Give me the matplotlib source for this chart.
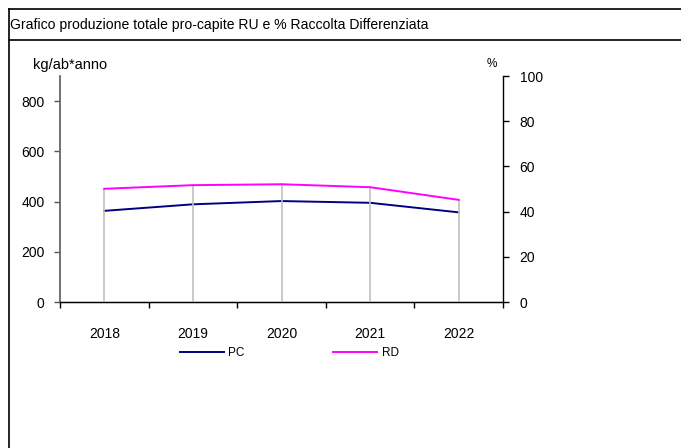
import numpy as np
import matplotlib
matplotlib.use('Agg')
import matplotlib.pyplot as plt
from matplotlib.lines import Line2D

plt.rcParams['font.family'] = ['Liberation Sans', 'DejaVu Sans']

# dati
anni = ['2018', '2019', '2020', '2021', '2022']
pc = [363, 389, 402, 395, 357]      # kg/ab*anno
rd = [50.1, 51.7, 52.1, 50.8, 45.2]  # %

W, H = 681, 448
fig = plt.figure(figsize=(W / 100, H / 100), dpi=100)

# cornice della tabella
fig.add_artist(Line2D([8.5 / W, 8.5 / W], [0, 1 - 9 / H], color='black', lw=1.2))
fig.add_artist(Line2D([8.5 / W, 1], [1 - 9 / H, 1 - 9 / H], color='black', lw=1.2))
fig.add_artist(Line2D([8.5 / W, 1], [1 - 40 / H, 1 - 40 / H], color='black', lw=1.2))
fig.text(10 / W, 1 - 24.5 / H, 'Grafico produzione totale pro-capite RU e % Raccolta Differenziata',
         fontsize=10.1, va='center', ha='left')

ax = fig.add_axes([60 / W, 1 - 302 / H, 443 / W, 226 / H])
ax2 = ax.twinx()

x = np.arange(len(anni))

# linee di riferimento verticali
for xi, v in zip(x, rd):
    ax2.plot([xi, xi], [0, v], color='#c0c0c0', lw=1.2, zorder=1)

ax.plot(x, pc, color='#000080', lw=1.4, zorder=3)
ax2.plot(x, rd, color='#ff00ff', lw=1.4, zorder=3)

ax.set_xlim(-0.5, len(anni) - 0.5)
ax.set_ylim(0, 900)
ax2.set_ylim(0, 100)

ax.set_yticks([0, 200, 400, 600, 800])
ax2.set_yticks([0, 20, 40, 60, 80, 100])
ax.set_xticks(np.arange(len(anni) + 1) - 0.5)
ax.set_xticklabels([])
ax.set_xticks(x, minor=True)
ax.set_xticklabels(anni, minor=True)

ax.tick_params(axis='x', which='major', length=4, width=1, direction='out')
ax.tick_params(axis='x', which='minor', length=0, pad=18, labelsize=10)
ax.tick_params(axis='y', length=4, width=1, color='#555555', pad=7, labelsize=10)
ax2.tick_params(axis='y', length=4, width=1, pad=8, labelsize=10)

for a in (ax, ax2):
    a.spines['top'].set_visible(False)
    a.set_facecolor('none')
ax.spines['left'].set_color('#666666')
ax.spines['left'].set_linewidth(1.3)
ax2.spines['left'].set_visible(False)
ax2.spines['right'].set_linewidth(1.0)
ax.spines['bottom'].set_linewidth(1.0)
ax.spines['right'].set_visible(False)

fig.text(33 / W, 1 - 65 / H, 'kg/ab*anno', fontsize=10.5, va='center', ha='left')
fig.text(487 / W, 1 - 64 / H, '%', fontsize=8.5, va='center', ha='left')

ax.legend([Line2D([], [], color='#000080', lw=1.4), Line2D([], [], color='#ff00ff', lw=1.4)],
          ['PC', 'RD'], ncol=2, frameon=False, fontsize=8.5,
          loc='center left', bbox_to_anchor=(180 / W, 1 - 353 / H),
          bbox_transform=fig.transFigure, handlelength=3.7, handletextpad=0.4,
          columnspacing=7.5, borderpad=0, borderaxespad=0)

fig.savefig('out.png', dpi=100, facecolor='white')
